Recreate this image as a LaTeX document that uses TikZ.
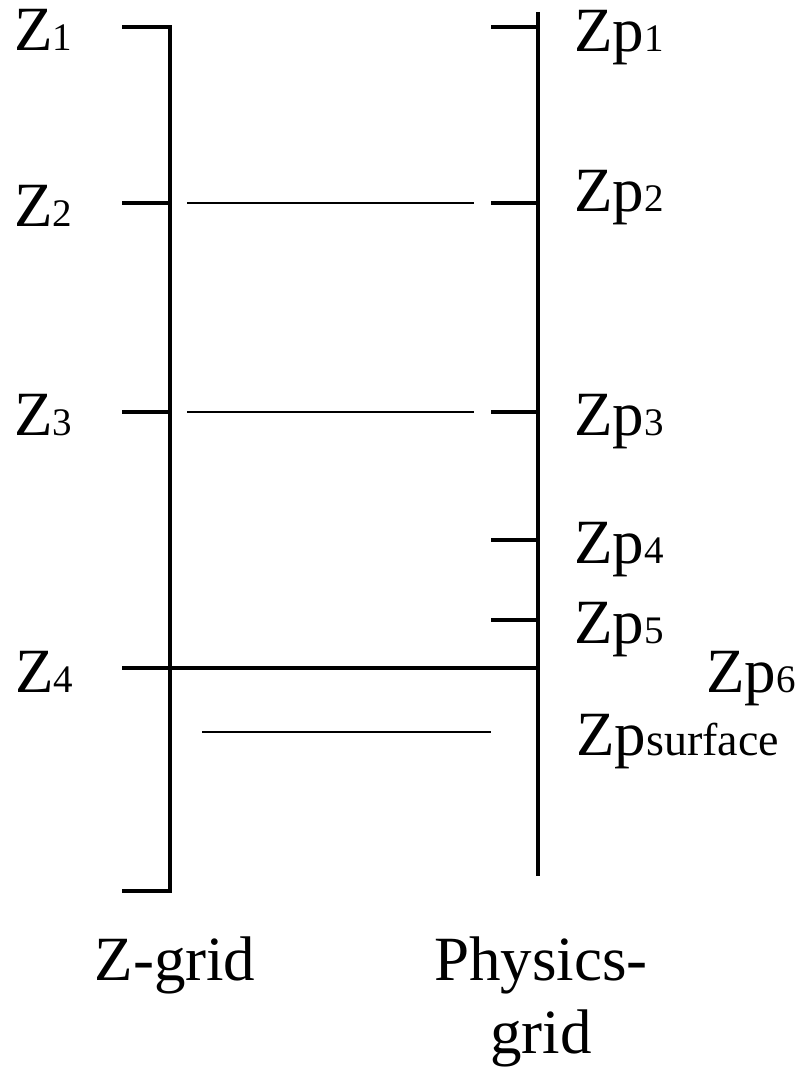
\documentclass[tikz,border=0pt]{standalone}
\usepackage{fontspec}
\setmainfont{Liberation Serif}
\newcommand\smalldig[1]{{\fontsize{39}{39}\selectfont #1}}
\newcommand\smallword[1]{{\fontsize{46}{46}\selectfont #1}}
\begin{document}
\begin{tikzpicture}[x=1pt,y=-1pt,
  heavy/.style={line width=3.5pt},
  light/.style={line width=1.7pt},
  lbl/.style={anchor=base west, inner sep=0pt, font=\fontsize{63}{73}\selectfont},
  captext/.style={anchor=base, inner sep=0pt, align=center, font=\fontsize{63}{73}\selectfont}]
\useasboundingbox (0,0) rectangle (799,1067);
% left (Z) grid
\coordinate (zt) at (170,27);
\coordinate (zb) at (170,891);
\coordinate (zt0) at (122,27);
\coordinate (zb0) at (122,891);
\coordinate (z2a) at (122,203); \coordinate (z2b) at (170,203);
\coordinate (z3a) at (122,412); \coordinate (z3b) at (170,412);
\coordinate (z4a) at (122,668);
% right (physics) grid
\coordinate (pt) at (538,12);
\coordinate (pb) at (538,876);
\foreach \n/\y in {1/27,2/203,3/412,4/540,5/620}{
  \coordinate (p\n a) at (491,\y);
  \coordinate (p\n b) at (538,\y);
}
\coordinate (p6) at (538,668);
% thin connecting lines
\coordinate (l2a) at (187,203); \coordinate (l2b) at (474,203);
\coordinate (l3a) at (187,412); \coordinate (l3b) at (474,412);
\coordinate (lsa) at (202,732); \coordinate (lsb) at (491,732);

\draw[heavy] (zt0) -- (zt) -- (zb) -- (zb0);
\draw[heavy] (z2a) -- (z2b);
\draw[heavy] (z3a) -- (z3b);
\draw[heavy] (z4a) -- (p6);
\draw[heavy] (pt) -- (pb);
\foreach \n in {1,...,5}{ \draw[heavy] (p\n a) -- (p\n b); }
\draw[light] (l2a) -- (l2b);
\draw[light] (l3a) -- (l3b);
\draw[light] (lsa) -- (lsb);

% labels
\node[lbl] (Z1) at (14,51) {Z\smalldig{1}};
\node[lbl] (Z2) at (14,227) {Z\smalldig{2}};
\node[lbl] (Z3) at (14,435) {Z\smalldig{3}};
\node[lbl] (Z4) at (15,692) {Z\smalldig{4}};
\node[lbl] (P1) at (574,52) {Zp\smalldig{1}};
\node[lbl] (P2) at (574,212) {Zp\smalldig{2}};
\node[lbl] (P3) at (574,435) {Zp\smalldig{3}};
\node[lbl] (P4) at (574,563) {Zp\smalldig{4}};
\node[lbl] (P5) at (574,643) {Zp\smalldig{5}};
\node[lbl] (P6) at (706,692) {Zp\smalldig{6}};
\node[lbl] (PS) at (576,755) {Zp\smallword{surface}};
\node[captext] (zg) at (175,980) {Z-grid};
\node[captext] (pg) at (541,1053) {Physics-\\grid};
\end{tikzpicture}
\end{document}
